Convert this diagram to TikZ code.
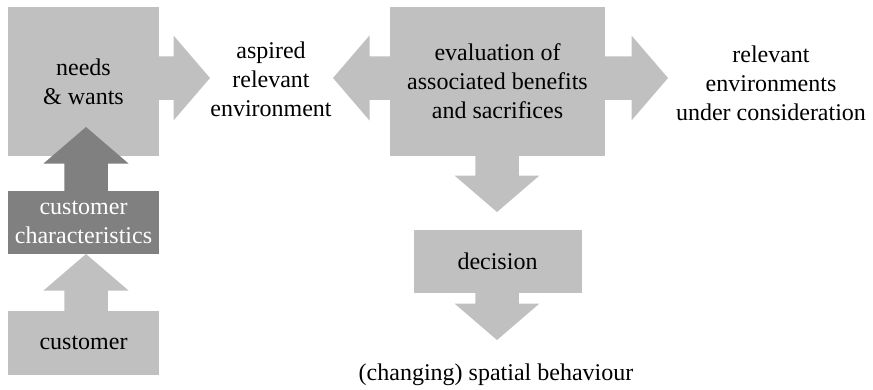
\documentclass[tikz,border=0pt]{standalone}
\usepackage{fontspec}
\setmainfont{Liberation Serif}
\usetikzlibrary{calc,positioning}
\definecolor{boxgrey}{RGB}{192,192,192}
\definecolor{traitgrey}{RGB}{128,128,128}
\tikzset{
 greybox/.style={
 rectangle,
 fill=boxgrey,
 inner sep=0pt,
 outer sep=0pt,
 align=center,
 font=\fontsize{24pt}{29pt}\selectfont
 },
 traitbox/.style={greybox, fill=traitgrey, text=white},
 plaintext/.style={
 align=center,
 inner sep=0pt,
 font=\fontsize{24pt}{29pt}\selectfont
 },
 blockarrow/.style={
 fill=boxgrey,
 to path={
 let \p1=($(\tikztotarget)!36.5pt!(\tikztostart)$) in
 ($(\tikztostart)!21.75pt!90:(\tikztotarget)$)
 -- ($(\p1)!21.75pt!90:(\tikztotarget)$)
 -- ($(\p1)!42.5pt!90:(\tikztotarget)$)
 -- (\tikztotarget)
 -- ($(\p1)!42.5pt!-90:(\tikztotarget)$)
 -- ($(\p1)!21.75pt!-90:(\tikztotarget)$)
 -- ($(\tikztostart)!21.75pt!-90:(\tikztotarget)$)
 -- cycle}
 },
 darkarrow/.style={blockarrow, fill=traitgrey}
}
\begin{document}
\begin{tikzpicture}[x=1pt, y=1pt]
 \useasboundingbox (0,0) rectangle (873,-389);

 \node[greybox, minimum width=151pt, minimum height=149pt] (needs) at (83.5,-81.5) {needs\\\& wants};
 \node[traitbox, minimum width=151pt, minimum height=63pt, below=35pt of needs] (traits) {customer\\characteristics};
 \node[greybox, minimum width=151pt, minimum height=64pt, below=57pt of traits] (customer) {customer};
 \node[greybox, minimum width=215pt, minimum height=149pt, right=231pt of needs] (eval) {evaluation of\\associated benefits\\and sacrifices};
 \node[greybox, minimum width=168pt, minimum height=63pt, below=74pt of eval] (decision) {decision};

 \node[plaintext] (aspired) at (271,-79) {aspired\\relevant\\environment};
 \node[plaintext] (consider) at (771,-83) {relevant\\environments\\under consideration};
 \node[plaintext] (behaviour) at (496,-375) {(changing) spatial behaviour};

 \coordinate (tipAsp) at (210,-78);
 \coordinate (tipLeft) at (333,-78);
 \coordinate (tipRight) at (668,-78);
 \coordinate (tipEval) at (497,-212);
 \coordinate (tipDec) at (497,-340);
 \coordinate (tipNeeds) at (86,-127);
 \coordinate (tipTraits) at (86,-254);

 \path[blockarrow] (needs.east |- tipAsp) to (tipAsp);
 \path[blockarrow] (eval.west |- tipLeft) to (tipLeft);
 \path[blockarrow] (eval.east |- tipRight) to (tipRight);
 \path[blockarrow] (eval.south -| tipEval) to (tipEval);
 \path[blockarrow] (decision.south -| tipDec) to (tipDec);
 \path[darkarrow] (traits.north -| tipNeeds) to (tipNeeds);
 \path[blockarrow] (customer.north -| tipTraits) to (tipTraits);
\end{tikzpicture}
\end{document}
